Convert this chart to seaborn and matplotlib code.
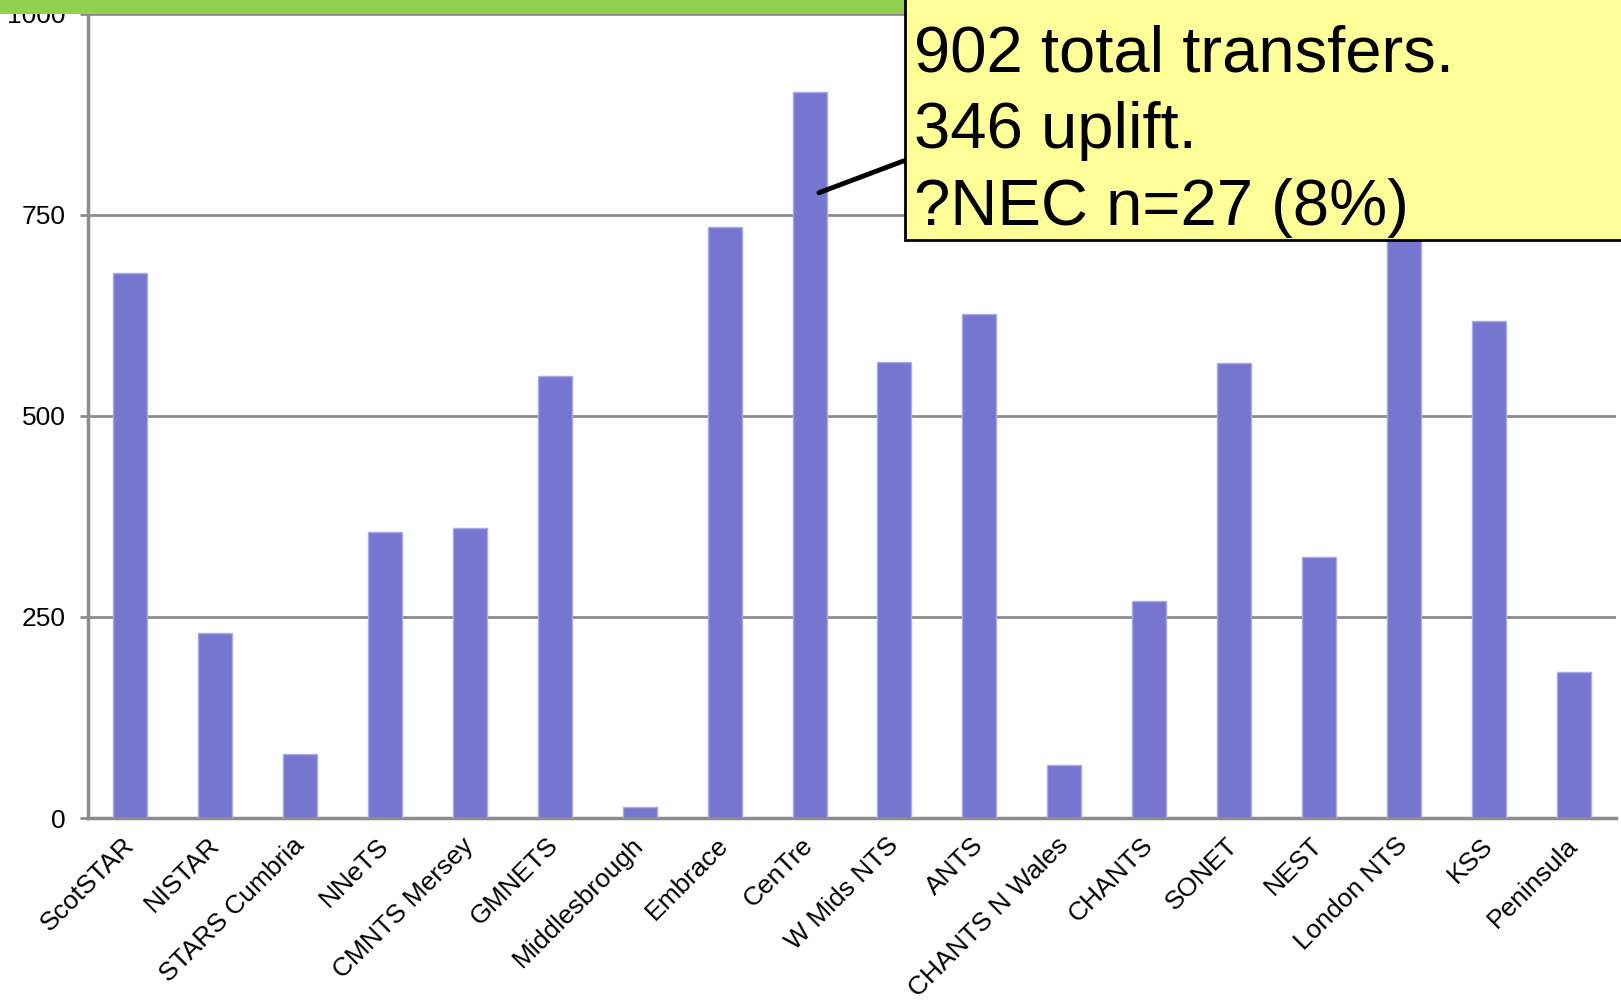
import matplotlib.pyplot as plt
import seaborn as sns
from matplotlib.patches import Rectangle

# transfers per network
networks = ['ScotSTAR', 'NISTAR', 'STARS Cumbria', 'NNeTS', 'CMNTS Mersey', 'GMNETS',
            'Middlesbrough', 'Embrace', 'CenTre', 'W Mids NTS', 'ANTS', 'CHANTS N Wales',
            'CHANTS', 'SONET', 'NEST', 'London NTS', 'KSS', 'Peninsula']
transfers = [677, 230, 80, 356, 361, 550, 14, 734, 902, 567, 627, 66, 270, 566, 325, 940, 618, 181]
y_ticks = [0, 250, 500, 750, 1000]
note_lines = ['902 total transfers.', '346 uplift.', '?NEC n=27 (8%)']
note_target = 'CenTre'

sns.set_style('white')
plt.rcParams['font.family'] = ['Liberation Sans', 'DejaVu Sans']
plt.rcParams['text.color'] = 'black'
plt.rcParams['xtick.labelcolor'] = 'black'
plt.rcParams['ytick.labelcolor'] = 'black'

fig = plt.figure(figsize=(16.21, 10.07), dpi=100)
ax = fig.add_axes([88 / 1621, 1 - 818 / 1007, 1528 / 1621, 804.5 / 1007])

sns.barplot(x=networks, y=transfers, color='#7676d0', saturation=1, width=0.4,
            edgecolor='#a9a9e8', linewidth=1, ax=ax, zorder=3)

ax.set_ylim(0, 1000)
ax.set_xlim(-0.5, len(networks) - 0.5)
ax.set_yticks(y_ticks)
ax.set_yticklabels([str(v) for v in y_ticks])
ax.yaxis.grid(True, color='#8c8c8c', linewidth=2)
ax.set_axisbelow(True)
ax.set_xlabel('')
ax.set_ylabel('')

for side in ['top', 'right']:
    ax.spines[side].set_visible(False)
for side in ['left', 'bottom']:
    ax.spines[side].set_color('#8c8c8c')
    ax.spines[side].set_linewidth(2.5)

ax.set_xticks(range(len(networks)))
ax.set_xticklabels(networks, rotation=45, ha='right', va='center', rotation_mode='anchor')
ax.set_xticks([i - 0.5 for i in range(len(networks) + 1)], minor=True)
ax.tick_params(axis='x', which='major', length=0, pad=17, labelsize=19)
ax.tick_params(axis='x', which='minor', length=6, width=2, color='#8c8c8c', direction='out')
ax.tick_params(axis='y', length=6, width=2, color='#8c8c8c', pad=10, labelsize=19, left=True)

# green header strip at the very top
fig.patches.append(Rectangle((0, 1 - 14 / 1007), 1, 14 / 1007, transform=fig.transFigure,
                             facecolor='#92d050', edgecolor='none', zorder=4))

# yellow call-out box
fig.patches.append(Rectangle((905 / 1621, 1 - 240 / 1007), 0.5, 0.5, transform=fig.transFigure,
                             facecolor='#ffff99', edgecolor='black', linewidth=2, zorder=5))
for i, line in enumerate(note_lines):
    fig.text(914 / 1621, 1 - (71 + 77 * i) / 1007, line, fontsize=47, va='baseline',
             ha='left', color='black', zorder=6)

xi = networks.index(note_target)
ax.annotate('', xy=(xi + 0.08, 776), xycoords='data',
            xytext=(906 / 1621, 1 - 160 / 1007), textcoords='figure fraction',
            arrowprops=dict(arrowstyle='-', lw=3.5, color='black'), zorder=6)

fig.savefig('out.png', dpi=100)
